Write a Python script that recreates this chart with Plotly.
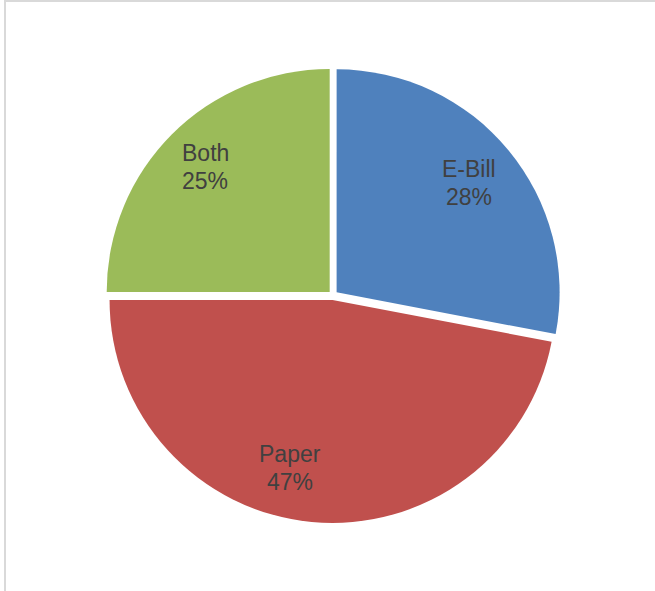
import numpy as np
import plotly.graph_objects as go

# Bill delivery preference shares
categories = ["E-Bill", "Paper", "Both"]
shares = [28, 47, 25]
colors = ["#4F81BD", "#C0504D", "#9BBB59"]

# Label placement style: radial fraction and angular nudge (degrees) per slice
label_frac = [0.77, 0.777, 0.79]
label_turn = [0.0, 8.5, 0.0]

W, H = 655, 591
pull = 0.021
cx_px, cy_px = 333.0, 295.3          # pie centre in page pixels
radius_px = 223.0
half = radius_px * (1 + pull)        # plotly shrinks the radius to fit the pulled slices

dom_x = [(cx_px - half) / W, (cx_px + half) / W]
dom_y = [(H - cy_px - half) / H, (H - cy_px + half) / H]

fig = go.Figure(
    go.Pie(
        labels=categories,
        values=shares,
        sort=False,
        direction="clockwise",
        rotation=0,
        pull=[pull] * len(shares),
        marker=dict(colors=colors, line=dict(width=0)),
        textinfo="none",
        hoverinfo="label+percent",
        showlegend=False,
        domain=dict(x=dom_x, y=dom_y),
    )
)

# Category/percent labels placed along each slice's bisector
vals = np.array(shares, dtype=float)
total = vals.sum()
mid_deg = (np.cumsum(vals) - vals / 2) / total * 360.0
font = dict(family="Liberation Sans, Arial, sans-serif", size=23, color="#404040")
line_gap = 28
annotations = []
for name, v, ang, f, turn in zip(categories, vals, mid_deg, label_frac, label_turn):
    t = np.deg2rad(ang + turn)
    d = radius_px * (pull + f)
    px = cx_px + d * np.sin(t)
    py = cy_px - d * np.cos(t)
    for text, dy in ((name, -line_gap / 2), (f"{v / total * 100:.0f}%", line_gap / 2)):
        annotations.append(
            dict(
                x=px / W,
                y=1 - (py + dy) / H,
                xref="paper",
                yref="paper",
                text=text,
                showarrow=False,
                xanchor="center",
                yanchor="middle",
                font=font,
            )
        )

# Light chart-area frame along the top and left edges
shapes = [
    dict(type="line", xref="paper", yref="paper", x0=5 / W, x1=5 / W, y0=0, y1=1,
         line=dict(color="#D9D9D9", width=2)),
    dict(type="line", xref="paper", yref="paper", x0=5 / W, x1=1, y0=1 - 1 / H, y1=1 - 1 / H,
         line=dict(color="#D9D9D9", width=2)),
]

fig.update_layout(
    width=W,
    height=H,
    margin=dict(l=0, r=0, t=0, b=0),
    paper_bgcolor="white",
    plot_bgcolor="white",
    annotations=annotations,
    shapes=shapes,
)

fig.write_html("out.html")
